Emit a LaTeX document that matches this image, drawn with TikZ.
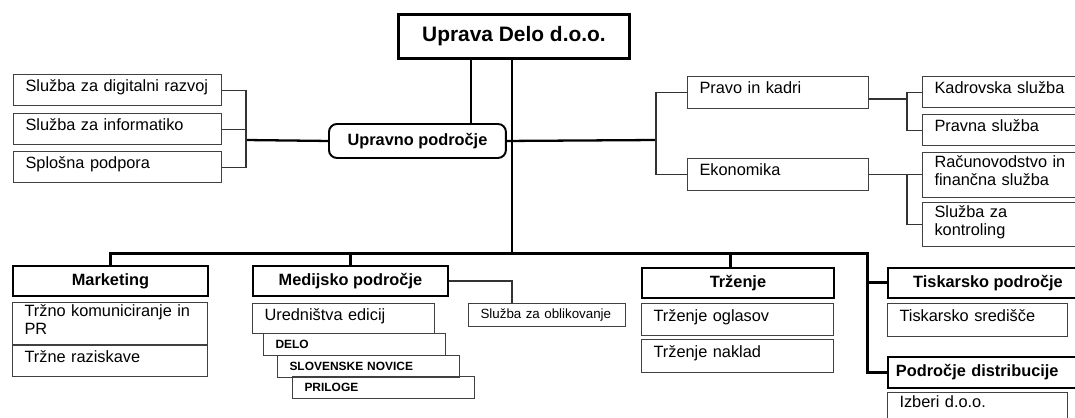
\documentclass[tikz,border=0pt]{standalone}
\usepackage{fontspec}
\setmainfont{Liberation Sans}

\begin{document}
\begin{tikzpicture}[x=0.02cm, y=-0.02cm,
            font=\fontsize{9.3}{10.2}\selectfont,
            cell/.style={
            draw=black!75,
            line width=0.6pt,
            anchor=north west,
            align=left,
            inner xsep=0.24cm,
            inner ysep=1pt},
            item/.style={
            cell,
            execute at end node={\rule[-5pt]{0pt}{0pt}}},
            head/.style={
            draw,
            line width=1.1pt,
            anchor=north west,
            minimum height=0.6cm,
            font=\fontsize{9.3}{10.2}\selectfont\bfseries},
            edition/.style={
            cell,
            minimum height=0.43cm,
            text width=3.16cm,
            font=\fontsize{6.8}{8}\selectfont\bfseries},
            link/.style={draw=black!80, line width=0.6pt},
            bus/.style={draw, line width=1.7pt}]

    \useasboundingbox (0,0) rectangle (1075,417);

    % uprava and upravno podrocje
    \node[head, line width=1.7pt, minimum width=4.62cm, minimum height=0.88cm,
          font=\fontsize{11.9}{13}\selectfont\bfseries] (uprava) at (397,13) {Uprava Delo d.o.o.};
    \node[head, rounded corners=0.16cm, minimum width=3.54cm, minimum height=0.68cm] (upravno) at (328,123) {Upravno področje};

    \foreach \name/\y/\txt in {dig/74/Služba za digitalni razvoj, inf/113/Služba za informatiko, spl/151/Splošna podpora}
    {
        \node[item, text width=3.68cm, minimum height=0.62cm] (\name) at (13,\y) {\txt};
    }
    \foreach \name/\y/\txt in {pravo/76/Pravo in kadri, ekon/158/Ekonomika}
    {
        \node[item, text width=3.14cm, minimum height=0.63cm] (\name) at (687,\y) {\txt};
    }
    \foreach \name/\y/\h/\txt in {kadr/76/0.62/Kadrovska služba, pravna/114/0.62/Pravna služba,
                                  racun/152/0.9/Računovodstvo in\\finančna služba, kontr/202/0.88/Služba za\\kontroling}
    {
        \node[item, text width=3.12cm, minimum height=\h cm] (\name) at (922,\y) {\txt};
    }

    % bottom row
    \node[head, minimum width=3.9cm] (mark) at (12,265) {Marketing};
    \node[item, text width=3.42cm, minimum height=0.72cm] (trzno) at (12,302) {Tržno komuniciranje in\\PR};
    \node[item, text width=3.42cm, minimum height=0.62cm] (razisk) at (12,345) {Tržne raziskave};

    \node[head, minimum width=3.9cm] (medij) at (252,265) {Medijsko področje};
    \node[item, text width=3.16cm, minimum height=0.6cm] (ured) at (252,303) {Uredništva edicij};
    \node[edition] (delo) at (263,333) {DELO};
    \node[edition] (slov) at (277,355) {SLOVENSKE NOVICE};
    \node[edition] (pril) at (292,376) {PRILOGE};
    \node[cell, text width=2.66cm, minimum height=0.46cm,
          font=\fontsize{7.6}{9}\selectfont] (oblik) at (468,303) {Služba za oblikovanje};

    \node[head, minimum width=3.84cm] (trz) at (641,267) {Trženje};
    \node[item, text width=3.36cm, minimum height=0.64cm] (ogl) at (641,303) {Trženje oglasov};
    \node[item, text width=3.36cm, minimum height=0.66cm] (nakl) at (641,339) {Trženje naklad};

    \node[head, minimum width=4.0cm] (tisk) at (887,267) {Tiskarsko področje};
    \node[item, text width=3.12cm, minimum height=0.66cm] (sred) at (887,303) {Tiskarsko središče};
    \node[head, align=left, text width=3.7cm, inner xsep=0.16cm, minimum height=0.62cm] (distr) at (887,356) {Področje distribucije};
    \node[item, text width=3.12cm, minimum height=0.52cm] (izb) at (887,392) {Izberi d.o.o.};

    % connectors
    \coordinate (upA) at (471,0);
    \coordinate (spine) at (512,253);
    \coordinate (lbr) at (246,140);
    \coordinate (rbr) at (656,140);
    \coordinate (pbr) at (907,99);
    \coordinate (ebr) at (907,174);
    \coordinate (busR) at (867,253);
    \coordinate (trzdrop) at (730,253);
    \coordinate (obr) at (512,282);

    \draw[bus] (uprava.south -| upA) -- (upravno.north -| upA);
    \draw[bus] (uprava.south -| spine) -- (spine);
    \draw[bus, line width=1.3pt] (upravno.west) -- (lbr);
    \draw[bus, line width=1.3pt] (upravno.east) -- (rbr);
    \draw[link] (dig.east) -| (lbr |- spl.east) -- (spl.east);
    \draw[link] (inf.east) -- (inf.east -| lbr);
    \draw[link] (pravo.west) -| (rbr |- ekon.west) -- (ekon.west);
    \draw[link] (pravo.east |- pbr) -- (pbr);
    \draw[link] (kadr.west) -| (pbr |- pravna.west) -- (pravna.west);
    \draw[link] (ekon.east) -- (ekon.east -| racun.west);
    \draw[link] (ebr) |- (kontr.west);
    \draw[bus] (mark.north) |- (busR) |- (distr.west);
    \draw[bus] (medij.north) -- (medij.north |- spine);
    \draw[bus] (trz.north -| trzdrop) -- (trzdrop);
    \draw[bus] (busR |- tisk.west) -- (tisk.west);
    \draw[link] (medij.east) -| (oblik.north -| obr);
\end{tikzpicture}
\end{document}
